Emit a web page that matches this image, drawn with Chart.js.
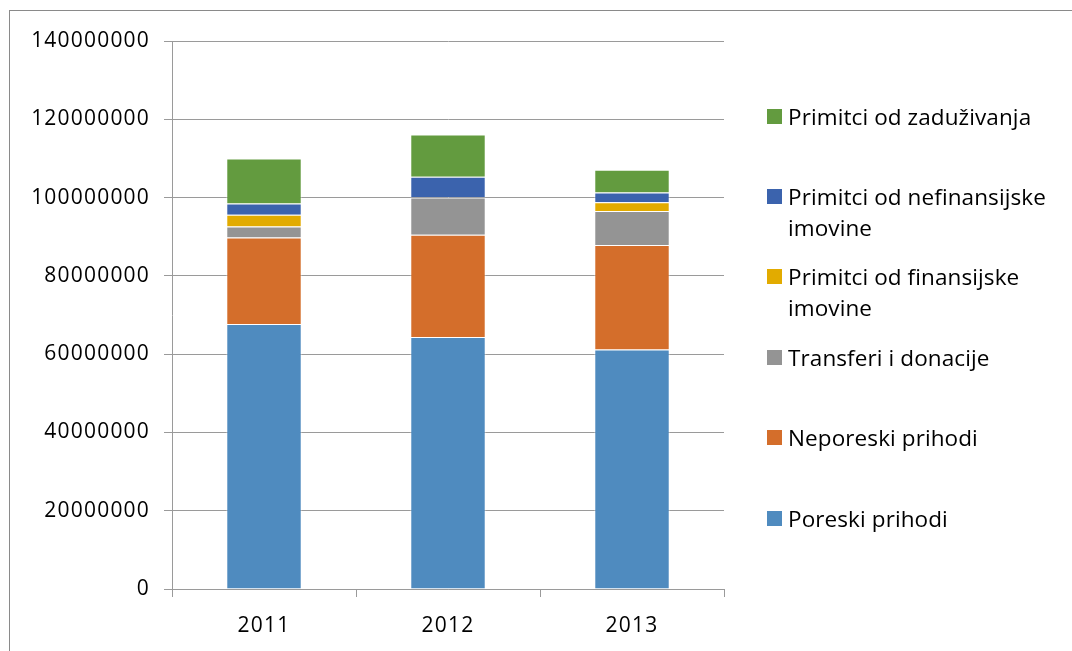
<!DOCTYPE html>
<html>
<head>
<meta charset="utf-8">
<script src="https://cdn.jsdelivr.net/npm/chart.js@4.4.1/dist/chart.umd.min.js"></script>
<style>
  html, body { margin: 0; padding: 0; background: #fff; }
  #wrap { position: relative; width: 1072px; height: 651px; overflow: hidden; }
  #frame {
    position: absolute; left: 9px; top: 10px; right: -2px; bottom: -2px;
    border-left: 1px solid #8a8a8a; border-top: 1px solid #8a8a8a;
  }
  #chart { position: absolute; left: 0; top: 0; }
  #legend { position: absolute; left: 767px; top: 0; font-family: "Open Sans", sans-serif;
    font-size: 22.5px; letter-spacing: 0.1px; color: #000; }
  .item { position: absolute; left: 0; width: 300px; line-height: 31px; }
  .swatch { position: absolute; left: 0; top: 8px; width: 15px; height: 15px; }
  .label { position: absolute; left: 21px; top: 0; width: 285px; white-space: nowrap; }
</style>
</head>
<body>
<div id="wrap">
  <div id="frame"></div>
  <canvas id="chart" width="1072" height="651"></canvas>
  <div id="legend"></div>
</div>
<script>
const years = ["2011", "2012", "2013"];

const poreskiPrihodi = [67700000, 64400000, 61200000];
const neporeskiPrihodi = [22100000, 26100000, 26700000];
const transferiDonacije = [2800000, 9500000, 8700000];
const finansijskaImovina = [3000000, 100000, 2200000];
const nefinansijskaImovina = [2900000, 5200000, 2500000];
const zaduzivanje = [11500000, 10800000, 5800000];

const yMin = 0;
const yMax = 140000000;
const yStep = 20000000;

const seriesNames = [
  "Poreski prihodi",
  "Neporeski prihodi",
  "Transferi i donacije",
  "Primitci od finansijske imovine",
  "Primitci od nefinansijske imovine",
  "Primitci od zaduživanja"
];
// legend text wraps like in the original
const legendLines = [
  ["Poreski prihodi"],
  ["Neporeski prihodi"],
  ["Transferi i donacije"],
  ["Primitci od finansijske", "imovine"],
  ["Primitci od nefinansijske", "imovine"],
  ["Primitci od zaduživanja"]
];
const seriesColors = ["#4f8bbf", "#d46e2b", "#949494", "#e2ab00", "#3b63ad", "#639b3f"];
const seriesData = [
  poreskiPrihodi, neporeskiPrihodi, transferiDonacije,
  finansijskaImovina, nefinansijskaImovina, zaduzivanje
];

const axisColor = "#9a9a9a";
const tickFont = { family: "Open Sans", size: 21 };

const letterSpacing = {
  id: "letterSpacing",
  beforeInit(chart) { chart.ctx.letterSpacing = "1.2px"; },
  beforeDraw(chart) { chart.ctx.letterSpacing = "1.2px"; }
};

const ctx = document.getElementById("chart");
const chart = new Chart(ctx, {
  type: "bar",
  data: {
    labels: years,
    datasets: seriesNames.map((name, i) => ({
      label: name,
      data: seriesData[i],
      backgroundColor: seriesColors[i],
      borderColor: "rgba(255,255,255,0.45)",
      borderWidth: 1,
      barPercentage: 0.41,
      categoryPercentage: 1
    }))
  },
  options: {
    responsive: false,
    animation: false,
    layout: { padding: { left: 0, right: 348, top: 41, bottom: 0 } },
    plugins: {
      legend: { display: false },
      tooltip: { enabled: false }
    },
    scales: {
      x: {
        stacked: true,
        afterFit(scale) { scale.height = 62; },
        grid: {
          offset: true,
          drawOnChartArea: false,
          drawTicks: true,
          tickLength: 8,
          color: axisColor
        },
        border: { color: axisColor },
        ticks: { color: "#000", font: tickFont, padding: 16 }
      },
      y: {
        stacked: true,
        min: yMin,
        max: yMax,
        afterFit(scale) { scale.width = 172; },
        grid: { color: axisColor, tickLength: 8 },
        border: { color: axisColor },
        ticks: {
          stepSize: yStep,
          color: "#000",
          font: tickFont,
          padding: 14,
          callback: (v) => String(v)
        }
      }
    }
  },
  plugins: [letterSpacing]
});

// legend, top item is the last series
const legendEl = document.getElementById("legend");
const order = [5, 4, 3, 2, 1, 0];
order.forEach((idx, row) => {
  const item = document.createElement("div");
  item.className = "item";
  item.style.top = (116 - 15.5 + row * 80.4) + "px";
  const sw = document.createElement("div");
  sw.className = "swatch";
  sw.style.background = seriesColors[idx];
  const lab = document.createElement("div");
  lab.className = "label";
  lab.innerHTML = legendLines[idx].join("<br>");
  item.appendChild(sw);
  item.appendChild(lab);
  legendEl.appendChild(item);
});
</script>
</body>
</html>
